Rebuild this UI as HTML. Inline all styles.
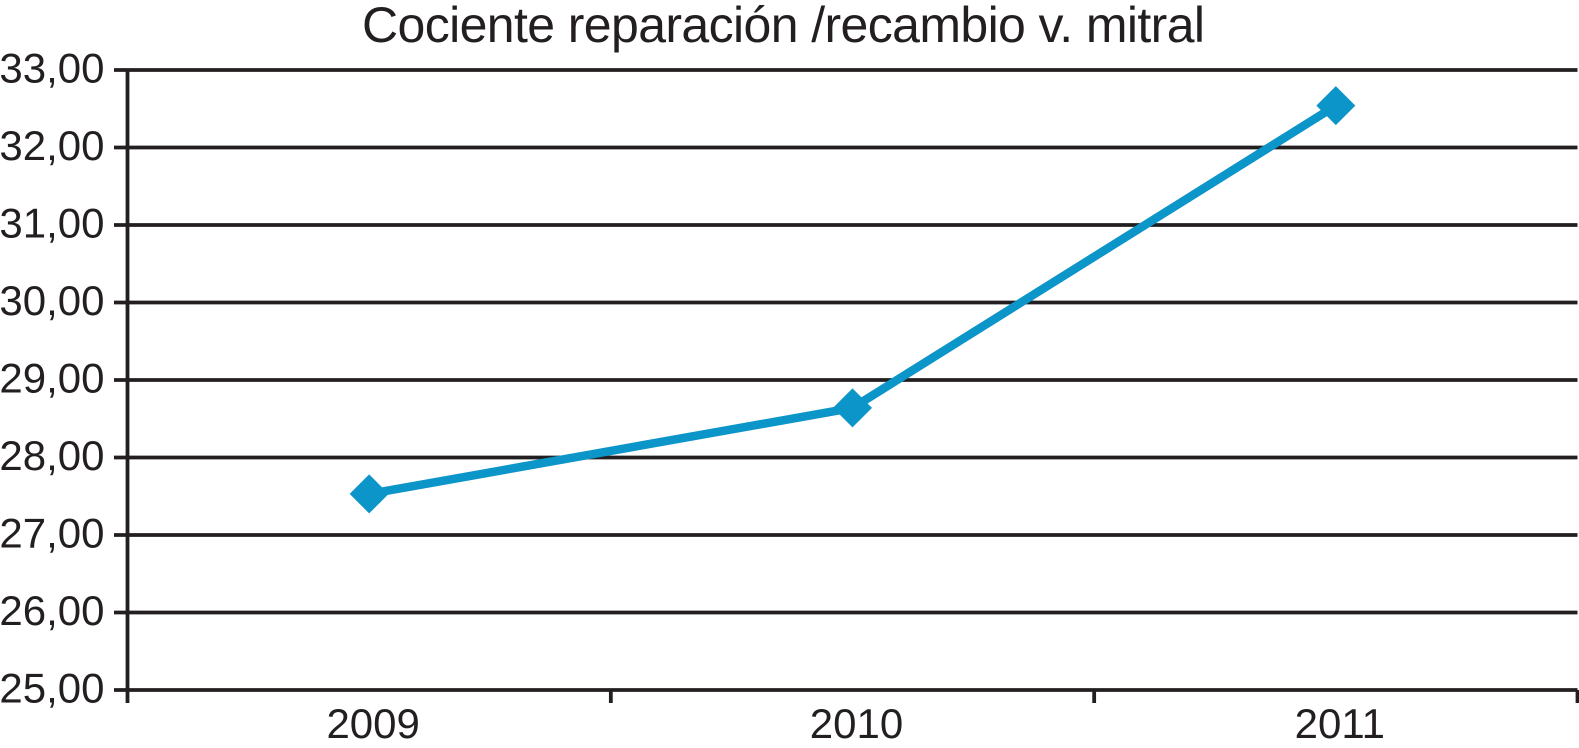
<!DOCTYPE html>
<html lang="es">
<head>
<meta charset="utf-8">
<title>Cociente reparación /recambio v. mitral</title>
<style>
  html, body { margin: 0; padding: 0; background: #fff; width: 1579px; height: 748px; overflow: hidden; }
  svg { display: block; }
  text { font-family: "Liberation Sans", Arial, sans-serif; fill: #231f20; }
</style>
</head>
<body>
<svg id="chart" width="1579" height="748" viewBox="0 0 1579 748" xmlns="http://www.w3.org/2000/svg">
  <text x="362" y="42" font-size="50" textLength="843" lengthAdjust="spacing">Cociente reparación /recambio v. mitral</text>
</svg>
<script>
const categories = ['2009', '2010', '2011'];
const ratioValues = [27.53, 28.64, 32.54];
const yTickValues = [25, 26, 27, 28, 29, 30, 31, 32, 33];
const yTickLabels = ['25,00', '26,00', '27,00', '28,00', '29,00', '30,00', '31,00', '32,00', '33,00'];

const svgNS = 'http://www.w3.org/2000/svg';
const svg = document.getElementById('chart');
const plotLeft = 127.5, plotRight = 1577.5, plotTop = 70, plotBottom = 690;
const ink = '#231f20', blue = '#0b95c8';

function yScale(v) {
  const lo = yTickValues[0], hi = yTickValues[yTickValues.length - 1];
  return plotBottom - (v - lo) / (hi - lo) * (plotBottom - plotTop);
}
function bandStep() { return (plotRight - plotLeft) / categories.length; }
function xScale(i) { return plotLeft + bandStep() * (i + 0.5); }
function make(tag, attrs) {
  const el = document.createElementNS(svgNS, tag);
  for (const k in attrs) el.setAttribute(k, attrs[k]);
  svg.appendChild(el);
  return el;
}

yTickValues.forEach(function (v, i) {
  const y = yScale(v);
  const grid = make('line', { x1: 114, x2: plotRight, y1: y, y2: y, stroke: ink, 'stroke-width': 3.8 });
  
  
  const label = make('text', { x: 104.5, y: y + 12.3, 'font-size': 42, 'text-anchor': 'end' });
  label.textContent = yTickLabels[i];
  
  
});

const yAxis = make('line', { x1: plotLeft, x2: plotLeft, y1: plotTop, y2: 703, stroke: ink, 'stroke-width': 3.8 });



for (let i = 1; i <= categories.length; i++) {
  const tx = plotLeft + bandStep() * i;
  const tick = make('line', { x1: tx, x2: tx, y1: plotBottom, y2: 703, stroke: ink, 'stroke-width': 3.8 });
  
  
}

categories.forEach(function (c, i) {
  const label = make('text', { x: xScale(i) + 4, y: 738, 'font-size': 42, 'text-anchor': 'middle' });
  label.textContent = c;
  
  
});

const series = make('polyline', {
  points: ratioValues.map(function (v, i) { return xScale(i) + ',' + yScale(v); }).join(' '),
  fill: 'none', stroke: blue, 'stroke-width': 8.5, 'stroke-linejoin': 'miter'
});



ratioValues.forEach(function (v, i) {
  const x = xScale(i), y = yScale(v), r = 19.5;
  const marker = make('polygon', {
    points: [x, y - r, x + r, y, x, y + r, x - r, y].join(' '),
    fill: blue
  });
  
  
});
</script>
</body>
</html>
